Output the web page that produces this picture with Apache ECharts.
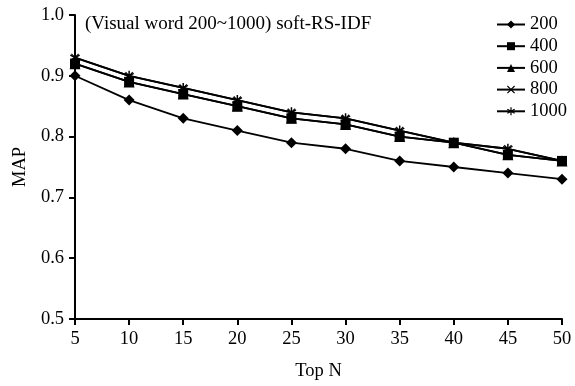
<!DOCTYPE html>
<html>
<head>
<meta charset="utf-8">
<script src="https://cdn.jsdelivr.net/npm/echarts@6/dist/echarts.min.js"></script>
<style>
  html, body { margin: 0; padding: 0; background: #fff; }
  #chart { width: 575px; height: 386px; }
</style>
</head>
<body>
<div id="chart"></div>
<script>
// Top N values on the x axis
const topN = [5, 10, 15, 20, 25, 30, 35, 40, 45, 50];

// MAP per visual word count
const map200  = [0.90, 0.86, 0.83, 0.81, 0.79, 0.78, 0.76, 0.75, 0.74, 0.73];
const map400  = [0.92, 0.89, 0.87, 0.85, 0.83, 0.82, 0.80, 0.79, 0.77, 0.76];
const map600  = [0.92, 0.89, 0.87, 0.85, 0.83, 0.82, 0.80, 0.79, 0.77, 0.76];
const map800  = [0.93, 0.90, 0.88, 0.86, 0.84, 0.83, 0.81, 0.79, 0.78, 0.76];
const map1000 = [0.93, 0.90, 0.88, 0.86, 0.84, 0.83, 0.81, 0.79, 0.78, 0.76];

const seriesNames = ["200", "400", "600", "800", "1000"];
const titleText = "(Visual word 200~1000) soft-RS-IDF";

const FONT = "'Liberation Serif', 'Times New Roman', serif";
const FS = 18.5;

// custom marker shapes
const crossPath = "path://M1,0 L5,4 L9,0 L10,1 L6,5 L10,9 L9,10 L5,6 L1,10 L0,9 L4,5 L0,1 Z";
const starPath = "path://M4.3,0 L5.7,0 L5.7,10 L4.3,10 Z " +
    "M1.02,1.89 L9.68,6.89 L8.98,8.11 L0.32,3.11 Z " +
    "M9.68,3.11 L1.02,8.11 L0.32,6.89 L8.98,1.89 Z";

const chart = echarts.init(document.getElementById("chart"));

function pairs(values) {
    return topN.map((n, i) => [n, values[i]]);
}

function makeSeries(name, values, symbol, size) {
    return {
        name: name,
        type: "line",
        data: pairs(values),
        symbol: symbol,
        symbolSize: size,
        showSymbol: true,
        lineStyle: { color: "#000", width: 1.8 },
        itemStyle: { color: "#000", borderWidth: 0 },
        emphasis: { disabled: true },
        animation: false
    };
}

const option = {
    backgroundColor: "#fff",
    animation: false,
    textStyle: { fontFamily: FONT, color: "#000" },
    title: {
        text: titleText,
        left: 80,
        top: 10,
        textStyle: { fontFamily: FONT, fontSize: 19, fontWeight: "normal", color: "#000" }
    },
    legend: {
        orient: "vertical",
        right: 3,
        top: 10,
        itemWidth: 28,
        itemHeight: 10,
        itemGap: 2.7,
        data: seriesNames,
        textStyle: { fontFamily: FONT, fontSize: FS, color: "#000", padding: [0, 0, 0, 0] }
    },
    grid: { left: 75, right: 13, top: 15, bottom: 63 },
    xAxis: {
        type: "value",
        min: 5,
        max: 50,
        interval: 5,
        name: "Top N",
        nameLocation: "middle",
        nameGap: 43,
        nameTextStyle: { fontFamily: FONT, fontSize: FS, color: "#000" },
        axisLine: { lineStyle: { color: "#000", width: 2 } },
        axisTick: { inside: false, length: 6, lineStyle: { color: "#000", width: 2 } },
        axisLabel: { fontFamily: FONT, fontSize: FS, color: "#000", margin: 11 },
        splitLine: { show: false }
    },
    yAxis: {
        type: "value",
        min: 0.5,
        max: 1.0,
        interval: 0.1,
        name: "MAP",
        nameLocation: "middle",
        nameGap: 44,
        nameTextStyle: { fontFamily: FONT, fontSize: FS, color: "#000" },
        axisLine: { show: true, lineStyle: { color: "#000", width: 2 } },
        axisTick: { show: true, inside: false, length: 6, lineStyle: { color: "#000", width: 2 } },
        axisLabel: { fontFamily: FONT, fontSize: FS, color: "#000", margin: 11,
            formatter: v => v.toFixed(1) },
        splitLine: { show: false }
    },
    series: [
        makeSeries("200", map200, "diamond", 11),
        makeSeries("400", map400, "rect", 10),
        makeSeries("600", map600, "triangle", 11),
        makeSeries("800", map800, crossPath, 8),
        makeSeries("1000", map1000, starPath, 10)
    ]
};

chart.setOption(option);
</script>
</body>
</html>
